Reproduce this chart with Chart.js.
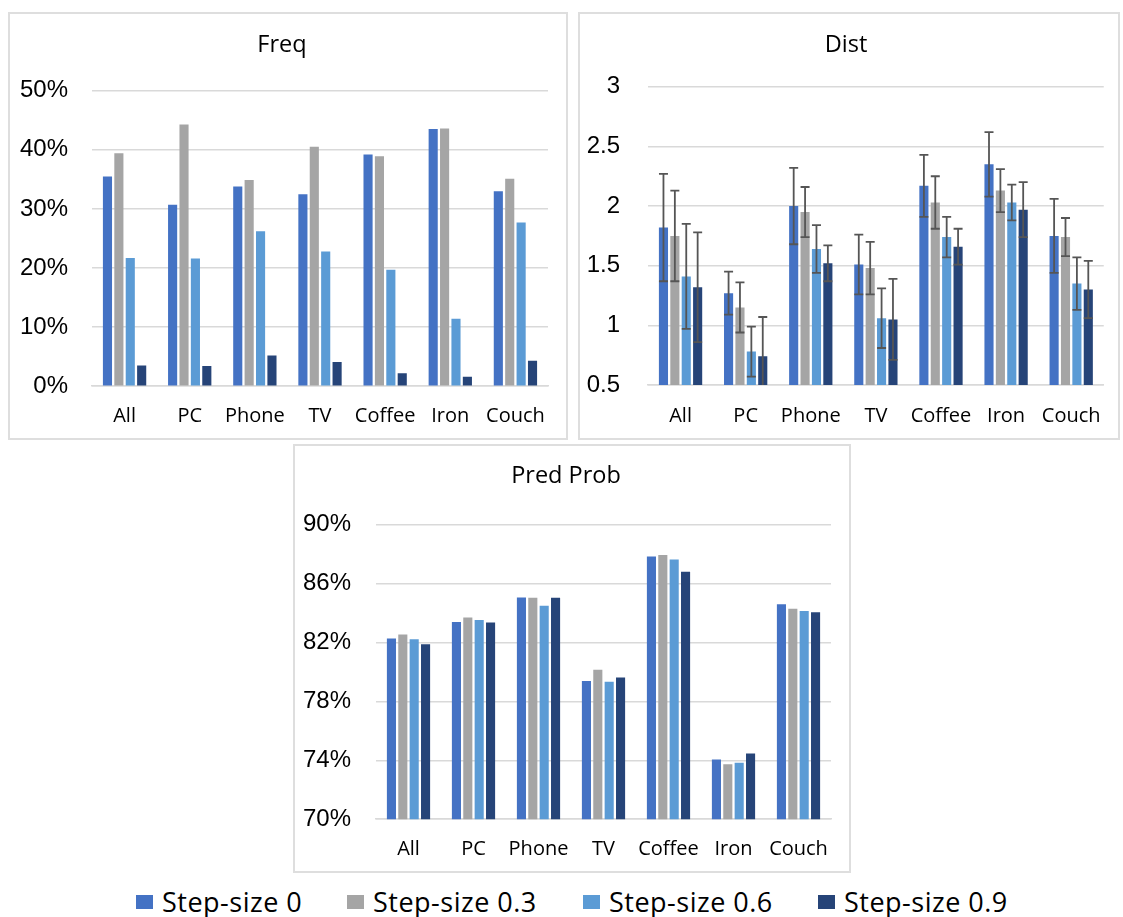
<!DOCTYPE html>
<html>
<head>
<meta charset="utf-8">
<script src="https://cdn.jsdelivr.net/npm/chart.js@4.4.1/dist/chart.umd.min.js"></script>
<style>
body { margin:0; background:#fff; width:1123px; height:917px; position:relative; overflow:hidden; font-family:"Open Sans", sans-serif; }
.panel { position:absolute; outline:2px solid #dedede; outline-offset:-2px; }
.item { position:absolute; top:883px; white-space:nowrap; display:flex; align-items:center; font-size:27px; letter-spacing:0.5px; color:#000; }
.sw { width:17px; height:14px; margin-right:9px; }
</style>
</head>
<body>
<div class="panel" style="left:8px;top:12px;width:560px;height:428px"><canvas id="freq" width="560" height="428"></canvas></div>
<div class="panel" style="left:578px;top:12px;width:542px;height:428px"><canvas id="dist" width="542" height="428"></canvas></div>
<div class="panel" style="left:293px;top:444px;width:558px;height:429px"><canvas id="pred" width="558" height="429"></canvas></div>
<div id="legend"></div>
<script>
const categories = ['All', 'PC', 'Phone', 'TV', 'Coffee', 'Iron', 'Couch']
const seriesNames = ['Step-size 0', 'Step-size 0.3', 'Step-size 0.6', 'Step-size 0.9']
const colors = ['#4472C4', '#A5A5A5', '#5B9BD5', '#264478']

// Freq (%)
const freq0 = [35.5, 30.7, 33.8, 32.5, 39.2, 43.5, 33.0]
const freq3 = [39.4, 44.3, 34.9, 40.5, 38.9, 43.6, 35.1]
const freq6 = [21.7, 21.6, 26.2, 22.8, 19.7, 11.4, 27.7]
const freq9 = [3.5, 3.4, 5.2, 4.1, 2.2, 1.6, 4.3]

// Dist + error
const dist0 = [1.82, 1.27, 2.00, 1.51, 2.17, 2.35, 1.75]
const dist3 = [1.75, 1.15, 1.95, 1.48, 2.03, 2.13, 1.74]
const dist6 = [1.41, 0.78, 1.64, 1.06, 1.74, 2.03, 1.35]
const dist9 = [1.32, 0.74, 1.52, 1.05, 1.66, 1.97, 1.30]
const distErr0 = [0.45, 0.18, 0.32, 0.25, 0.26, 0.27, 0.31]
const distErr3 = [0.38, 0.21, 0.21, 0.22, 0.22, 0.18, 0.16]
const distErr6 = [0.44, 0.21, 0.20, 0.25, 0.17, 0.15, 0.22]
const distErr9 = [0.46, 0.33, 0.15, 0.34, 0.15, 0.23, 0.24]

// Pred Prob (%)
const pred0 = [82.27, 83.39, 85.06, 79.38, 87.84, 74.06, 84.59]
const pred3 = [82.54, 83.69, 85.04, 80.15, 87.95, 73.74, 84.30]
const pred6 = [82.22, 83.53, 84.50, 79.33, 87.63, 73.83, 84.14]
const pred9 = [81.88, 83.35, 85.04, 79.63, 86.80, 74.46, 84.05]

const legendX = [136, 347, 583, 818]

const errorBars = {
    id: 'errorBars',
    afterDatasetsDraw(chart, args, opts) {
        if (!opts.errors) return
        const ctx = chart.ctx
        const y = chart.scales.y
        const area = chart.chartArea
        ctx.save()
        ctx.strokeStyle = '#555'
        ctx.lineWidth = 1.8
        opts.errors.forEach((errs, i) => {
            chart.getDatasetMeta(i).data.forEach((bar, j) => {
                const v = chart.data.datasets[i].data[j]
                const top = y.getPixelForValue(v + errs[j])
                const bot = y.getPixelForValue(v - errs[j])
                const b = Math.min(bot, area.bottom)
                ctx.beginPath()
                ctx.moveTo(bar.x, top)
                ctx.lineTo(bar.x, b)
                ctx.moveTo(bar.x - 4.5, top)
                ctx.lineTo(bar.x + 4.5, top)
                if (bot <= area.bottom) {
                    ctx.moveTo(bar.x - 4.5, bot)
                    ctx.lineTo(bar.x + 4.5, bot)
                }
                ctx.stroke()
            })
        })
        ctx.restore()
    }
}

function build(id, title, values, y, box) {
    return new Chart(document.getElementById(id), {
        type: 'bar',
        data: {
            labels: categories,
            datasets: values.map((d, i) => ({
                label: seriesNames[i],
                data: d,
                backgroundColor: colors[i],
                categoryPercentage: 0.7,
                barPercentage: 0.8
            }))
        },
        options: {
            responsive: false,
            animation: false,
            devicePixelRatio: 1,
            layout: { padding: { left: box.left, right: box.right, top: 0, bottom: box.bottom } },
            plugins: {
                legend: { display: false },
                tooltip: { enabled: false },
                title: {
                    display: true, text: title, color: '#000',
                    font: { family: 'Open Sans', size: 23.5, weight: 'normal' },
                    padding: { top: box.tTop, bottom: box.tBot }
                },
                errorBars: { errors: box.errors }
            },
            scales: {
                x: {
                    grid: { display: false, drawTicks: false },
                    border: { display: true, color: '#d9d9d9', width: 1.5 },
                    ticks: { font: { family: 'Open Sans', size: 20 }, color: '#000', padding: box.xPad, maxRotation: 0, autoSkip: false }
                },
                y: {
                    min: y.min, max: y.max,
                    ticks: { stepSize: y.step, callback: y.fmt, font: { family: 'Liberation Sans', size: 24 }, color: '#000', padding: box.yPad },
                    grid: { color: '#d9d9d9', lineWidth: 1.5, drawTicks: false },
                    border: { display: false },
                    afterFit(s) { s.width = box.yW }
                }
            }
        },
        plugins: [errorBars]
    })
}

const pct = v => v + '%'

build('freq', 'Freq', [freq0, freq3, freq6, freq9],
    { min: 0, max: 50, step: 10, fmt: pct },
    { left: 8, right: 20, bottom: -7, tTop: 19, tBot: 31.5, xPad: 18.4, yPad: 24, yW: 76 })

build('dist', 'Dist', [dist0, dist3, dist6, dist9],
    { min: 0.5, max: 3, step: 0.5, fmt: v => String(v) },
    { left: 0, right: 6, bottom: -7, tTop: 19, tBot: 27.6, xPad: 19, yPad: 28, yW: 70,
      errors: [distErr0, distErr3, distErr6, distErr9] })

build('pred', 'Pred Prob', [pred0, pred3, pred6, pred9],
    { min: 70, max: 90, step: 4, fmt: pct },
    { left: 8, right: 20, bottom: -7, tTop: 18.5, tBot: 34, xPad: 18.4, yPad: 25, yW: 75 })

const legend = document.getElementById('legend')
seriesNames.forEach((name, i) => {
    const item = document.createElement('div')
    item.className = 'item'
    item.style.left = legendX[i] + 'px'
    item.innerHTML = '<span class="sw" style="background:' + colors[i] + '"></span><span>' + name + '</span>'
    legend.appendChild(item)
})
</script>
</body>
</html>
